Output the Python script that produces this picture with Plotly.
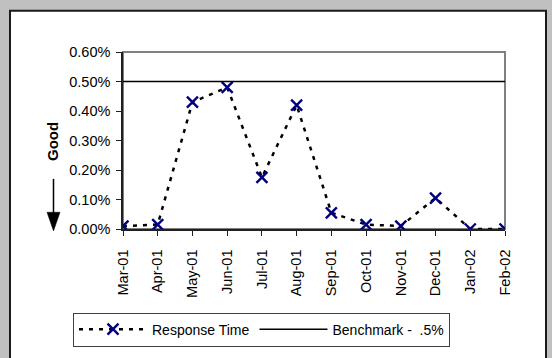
import plotly.graph_objects as go

months = ["Mar-01", "Apr-01", "May-01", "Jun-01", "Jul-01", "Aug-01",
          "Sep-01", "Oct-01", "Nov-01", "Dec-01", "Jan-02", "Feb-02"]
response_time = [0.0001, 0.00015, 0.0043, 0.0048, 0.00175, 0.0042,
                 0.00055, 0.00015, 0.0001, 0.00105, 0.0, 0.0]
benchmark = [0.005] * len(months)
y_ticks = [0, 0.001, 0.002, 0.003, 0.004, 0.005, 0.006]

W, H = 552, 358
L, R, T, B = 123, 505, 52, 232  # plot area px
pw, ph = R - L, B - T


def px(x):
    return (x - L) / pw


def py(y):
    return (B - y) / ph


FONT = "Arial, Liberation Sans, sans-serif"

fig = go.Figure()
fig.add_trace(go.Scatter(
    x=months, y=response_time, name="Response Time", mode="lines+markers",
    line=dict(color="black", width=2.5, dash="4px,6px"),
    marker=dict(symbol="x-thin-open", size=11, color="#000080",
                line=dict(color="#000080", width=2.4)),
))
fig.add_trace(go.Scatter(
    x=months, y=benchmark, name="Benchmark -  .5%", mode="lines",
    line=dict(color="black", width=1.6),
))

shapes = [
    # white chart area
    dict(type="rect", xref="paper", yref="paper", layer="below",
         x0=px(10), x1=px(546), y0=py(375), y1=py(10),
         fillcolor="white", line=dict(color="#1a1a1a", width=2)),
    # plot area border
    dict(type="rect", xref="paper", yref="paper", layer="below",
         x0=0, x1=1, y0=0, y1=1, line=dict(color="#808080", width=2)),
    # arrow shaft
    dict(type="line", xref="paper", yref="paper",
         x0=px(53.5), x1=px(53.5), y0=py(181), y1=py(218),
         line=dict(color="black", width=1.5)),
    # arrow head
    dict(type="path", xref="paper", yref="paper",
         path=f"M {px(47)} {py(215)} L {px(60)} {py(215)} L {px(53.5)} {py(234)} Z",
         fillcolor="black", line=dict(color="black", width=0.5)),
]

fig.update_layout(
    width=W, height=H,
    margin=dict(l=L, r=W - R, t=T, b=H - B),
    paper_bgcolor="#C0C0C0", plot_bgcolor="white",
    font=dict(family=FONT, size=14.5, color="black"),
    showlegend=True,
    legend=dict(orientation="h", x=px(73), y=py(317), xanchor="left", yanchor="top",
                bgcolor="white", bordercolor="#404040", borderwidth=1,
                font=dict(size=14), itemwidth=68, tracegroupgap=0),
    shapes=shapes,
    annotations=[dict(text="<b>Good</b>", xref="paper", yref="paper",
                      x=px(52.5), y=py(143), xanchor="center", yanchor="middle",
                      showarrow=False, textangle=-90,
                      font=dict(size=15, family=FONT))],
)
fig.update_xaxes(type="category", range=[0, len(months) - 1], tickangle=-90,
                 ticks="outside", ticklen=5, tickcolor="#202020",
                 showline=True, linecolor="#202020", linewidth=1.5,
                 showgrid=False, zeroline=False, ticklabelstandoff=8)
fig.update_yaxes(range=[0, 0.006], tickvals=y_ticks, tickformat=".2%",
                 ticks="outside", ticklen=5, tickcolor="#202020",
                 showline=True, linecolor="#202020", linewidth=1.5,
                 showgrid=False, zeroline=False, ticklabelstandoff=3)

fig.write_html("out.html", config={"displayModeBar": False},
               post_script="document.body.style.margin='0';document.body.style.background='#C0C0C0';")
